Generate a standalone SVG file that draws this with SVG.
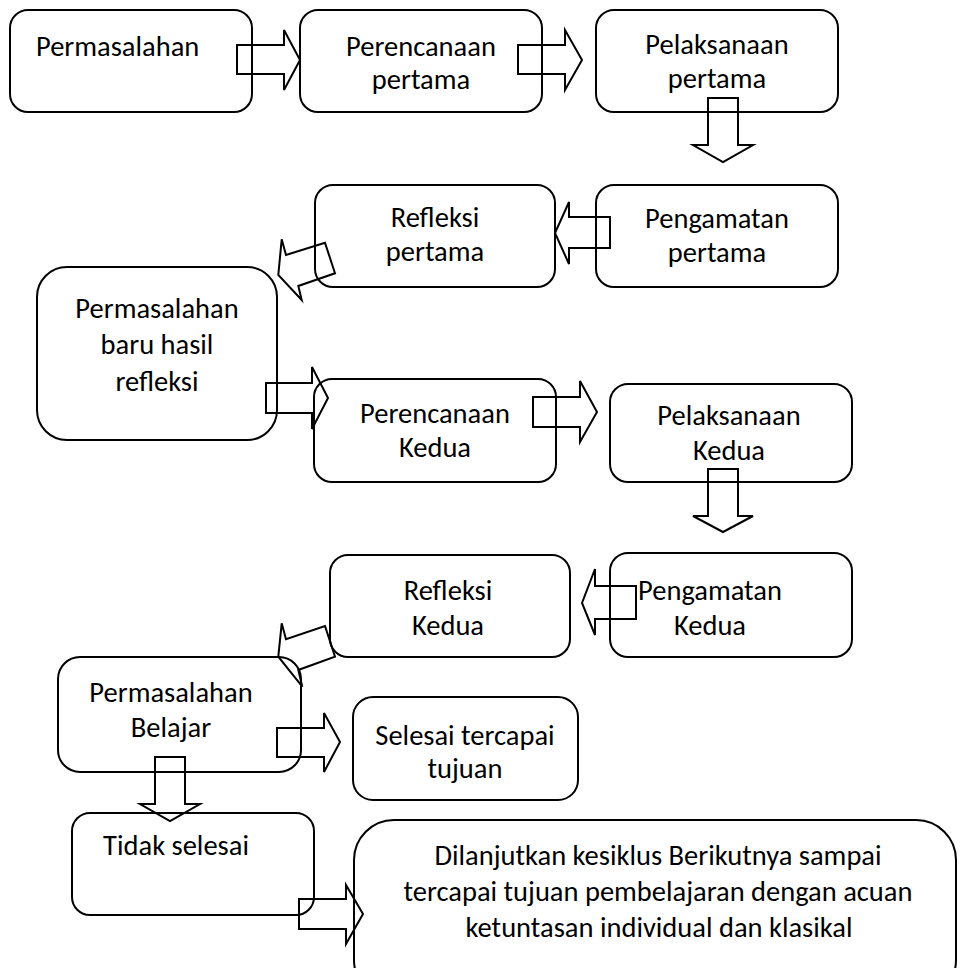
<svg xmlns="http://www.w3.org/2000/svg" width="960" height="968" viewBox="0 0 960 968">
<style>
.box{fill:none;stroke:#000;stroke-width:2}
.arr{fill:none;stroke:#000;stroke-width:2;stroke-linejoin:miter}
text{font-family:Carlito,Lato,"Liberation Sans",sans-serif;font-size:28.5px;fill:#000;text-anchor:middle}
</style>
<rect width="960" height="968" fill="#fff"/>
<g id="n1"><rect class="box" x="10" y="10" width="242" height="102" rx="18"/><text x="36" y="56" style="text-anchor:start">Permasalahan</text></g>
<g id="n2"><rect class="box" x="300" y="10" width="242" height="102" rx="18"/><text x="421" y="56">Perencanaan</text><text x="421" y="89">pertama</text></g>
<g id="n3"><rect class="box" x="596" y="10" width="242" height="102" rx="18"/><text x="717" y="54">Pelaksanaan</text><text x="717" y="88">pertama</text></g>
<g id="n4"><rect class="box" x="315" y="185" width="240" height="102" rx="18"/><text x="435" y="227">Refleksi</text><text x="435" y="261">pertama</text></g>
<g id="n5"><rect class="box" x="596" y="185" width="242" height="102" rx="18"/><text x="717" y="228">Pengamatan</text><text x="717" y="262">pertama</text></g>
<g id="n6"><rect class="box" x="37" y="267" width="240" height="173" rx="30"/><text x="157" y="318">Permasalahan</text><text x="157" y="354">baru hasil</text><text x="157" y="391">refleksi</text></g>
<g id="n7"><rect class="box" x="314" y="379" width="242" height="103" rx="18"/><text x="435" y="423">Perencanaan</text><text x="435" y="457">Kedua</text></g>
<g id="n8"><rect class="box" x="610" y="384" width="242" height="98" rx="18"/><text x="729" y="425">Pelaksanaan</text><text x="729" y="460">Kedua</text></g>
<g id="n9"><rect class="box" x="330" y="555" width="240" height="102" rx="18"/><text x="448" y="600">Refleksi</text><text x="448" y="635">Kedua</text></g>
<g id="n10"><rect class="box" x="610" y="553" width="242" height="104" rx="18"/><text x="710" y="600">Pengamatan</text><text x="710" y="635">Kedua</text></g>
<g id="n11"><rect class="box" x="58" y="657" width="243" height="115" rx="22"/><text x="171" y="702">Permasalahan</text><text x="171" y="737">Belajar</text></g>
<g id="n12"><rect class="box" x="353" y="697" width="225" height="103" rx="20"/><text x="465" y="745">Selesai tercapai</text><text x="465" y="778">tujuan</text></g>
<g id="n13"><rect class="box" x="72" y="813" width="242" height="102" rx="18"/><text x="176" y="855">Tidak selesai</text></g>
<g id="n14"><rect class="box" x="354" y="820" width="602" height="180" rx="40"/><text x="658" y="865">Dilanjutkan kesiklus Berikutnya sampai</text><text x="658" y="901">tercapai tujuan pembelajaran dengan acuan</text><text x="659" y="937">ketuntasan individual dan klasikal</text></g>
<g id="connectors">
<path class="arr" d="M237,45 H284 V30 L300,60 L284,90 V74 H237 Z"/>
<path class="arr" d="M518,45 H565 V30 L582,60 L565,90 V74 H518 Z"/>
<path class="arr" d="M708,98 V145 H693 L723,162 L753,145 H738 V98 Z"/>
<path class="arr" d="M610,217 H569 V202 L555,233 L569,264 V248 H610 Z"/>
<path class="arr" d="M278.3,275 L281.7,239.3 L286,255 L325,242.7 L335,273.3 L298.3,286 L301.7,300 Z"/>
<path class="arr" d="M266,383 H312 V367 L328,398 L312,429 V413 H266 Z"/>
<path class="arr" d="M533,397 H580 V381 L597,412 L580,442 V427 H533 Z"/>
<path class="arr" d="M708,469 V516 H693 L723,532 L753,516 H738 V469 Z"/>
<path class="arr" d="M636,586 H595 V569 L582,603 L595,635 V619 H636 Z"/>
<path class="arr" d="M278.3,656.7 L281.7,623.3 L286,639.3 L325,626 L335,656.7 L298.3,670 L302.3,686.7 Z"/>
<path class="arr" d="M277,728 H324 V713 L340,742 L324,772 V757 H277 Z"/>
<path class="arr" d="M155,757 V804 H140 L170,821 L200,804 H185 V757 Z"/>
<path class="arr" d="M299,899 H346 V885 L363,914 L346,944 V929 H299 Z"/>
</g>
</svg>
